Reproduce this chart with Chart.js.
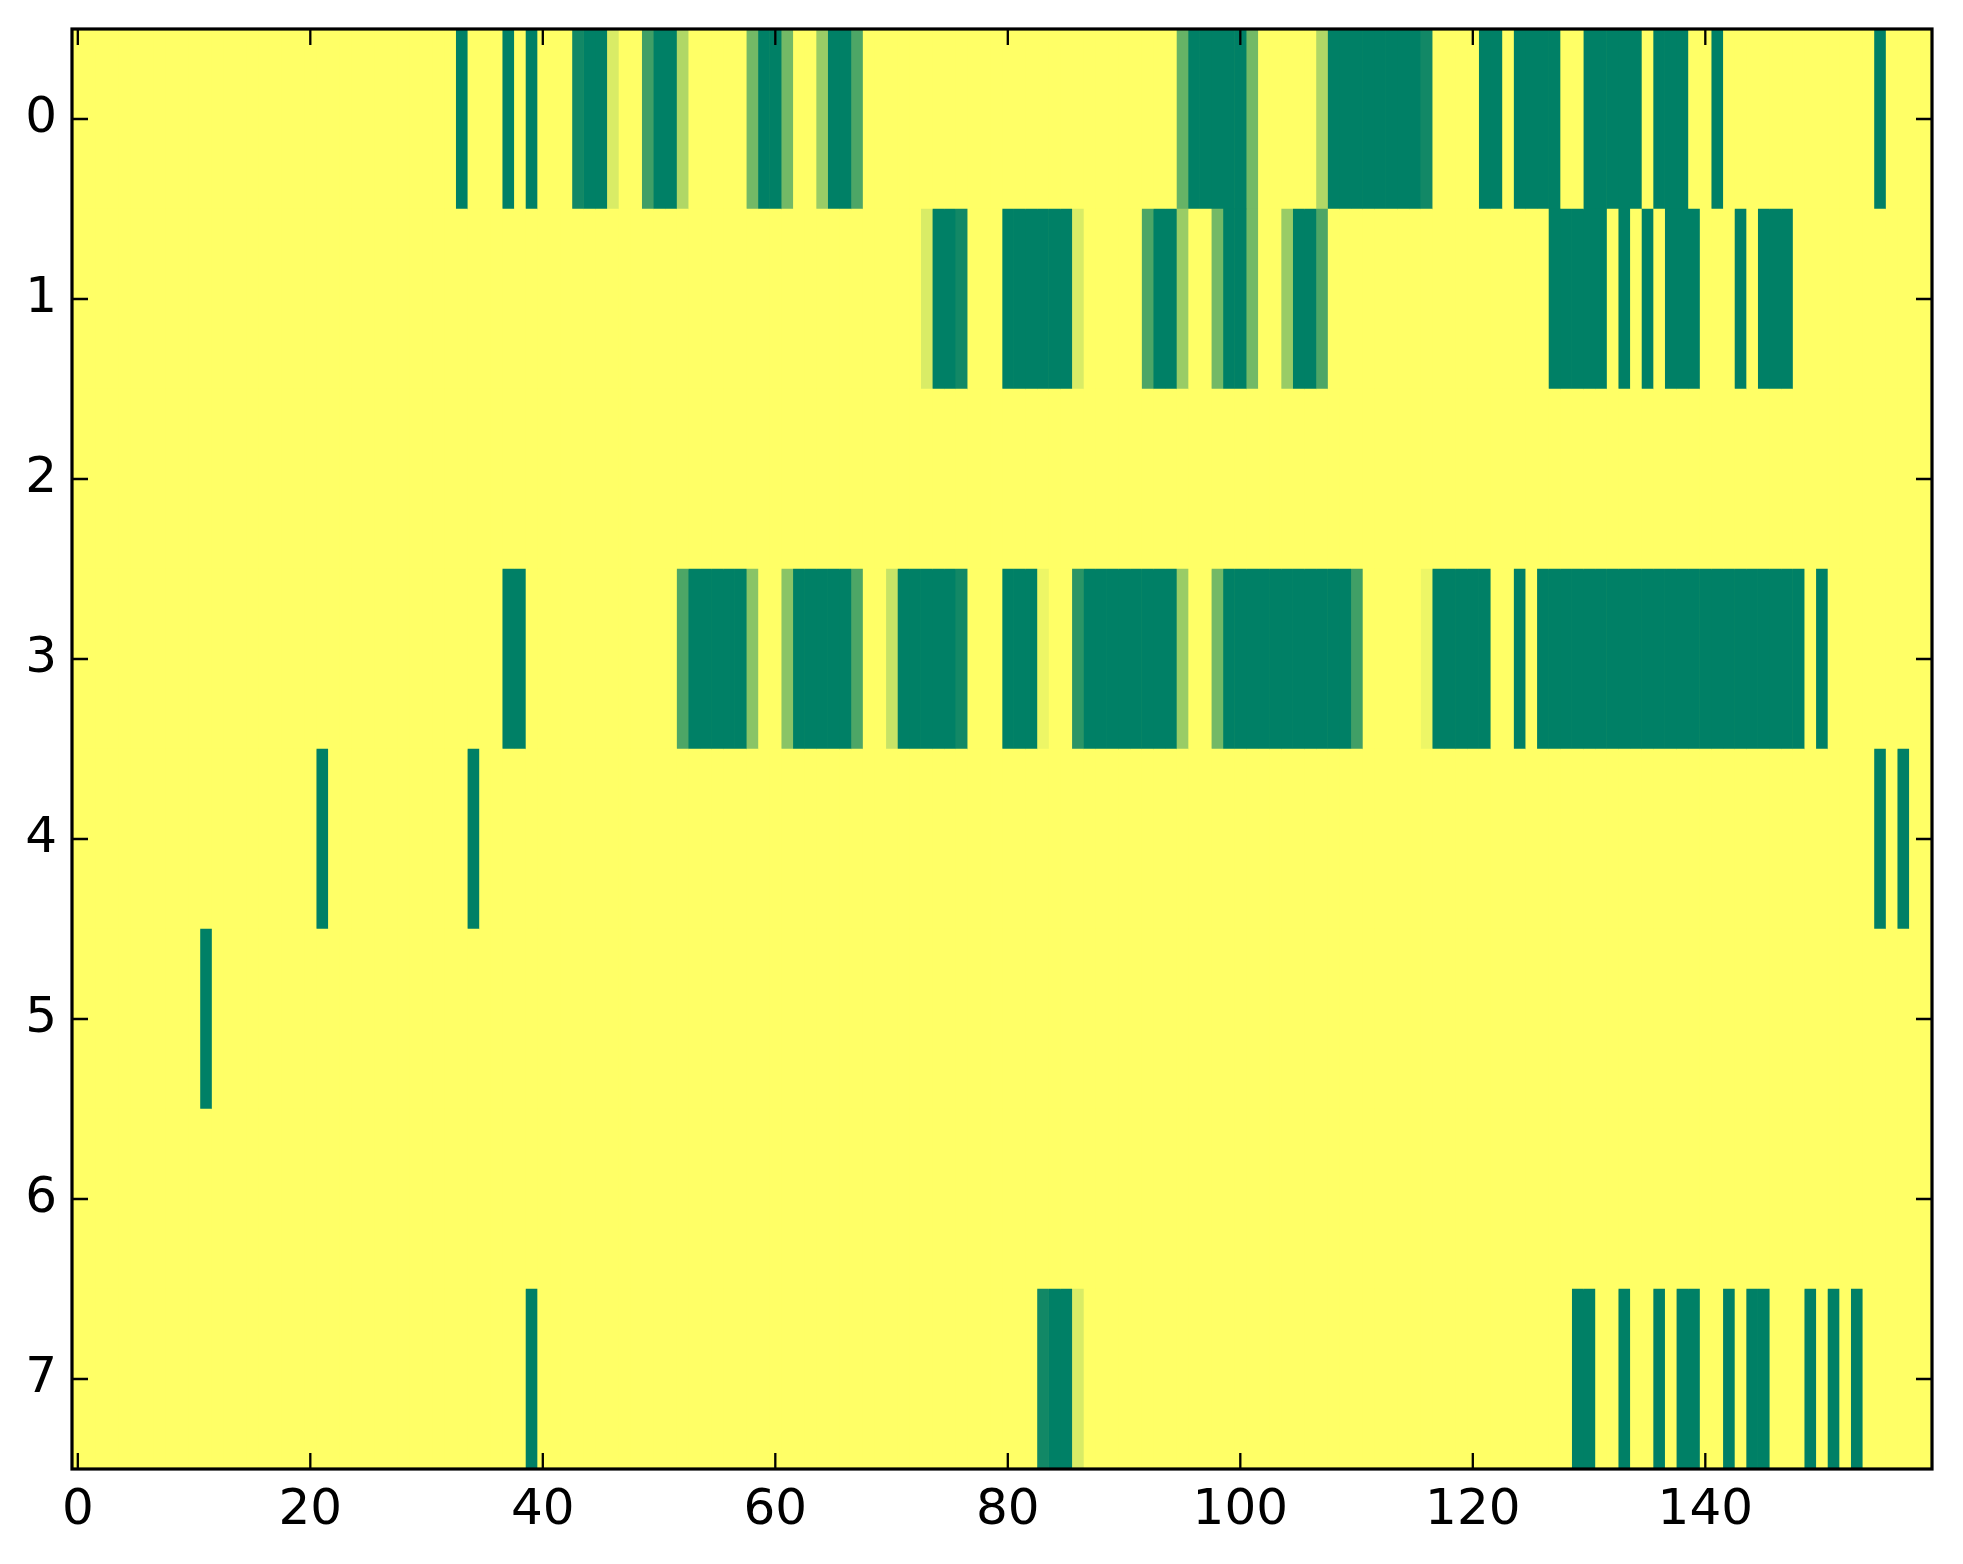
<!DOCTYPE html>
<html>
<head>
<meta charset="utf-8">
<script src="https://cdn.jsdelivr.net/npm/chart.js@4.4.1/dist/chart.umd.min.js"></script>
<style>
  html, body { margin: 0; padding: 0; background: #ffffff; }
  canvas { display: block; }
</style>
</head>
<body>
<canvas id="heat" width="1963" height="1564"></canvas>
<script>
// rows of the image, top to bottom
const rowLabels = ["0", "1", "2", "3", "4", "5", "6", "7"];
const nCols = 160;
const xTicks = [0, 20, 40, 60, 80, 100, 120, 140];

// non-zero cells per row: [column, value]  (everything else is 0)
const row0 = [[33,1],[37,1],[39,1],[43,0.93],[44,1],[45,1],[46,0.15],[49,0.75],[50,1],[51,1],[52,0.31],
  [58,0.55],[59,1],[60,1],[61,0.55],[64,0.4],[65,1],[66,1],[67,0.7],
  [95,0.6],[96,1],[97,1],[98,1],[99,1],[100,1],[101,0.55],
  [107,0.31],[108,1],[109,1],[110,1],[111,1],[112,1],[113,1],[114,1],[115,1],[116,0.93],
  [121,1],[122,1],[124,1],[125,1],[126,1],[127,1],[130,1],[131,1],[132,1],[133,1],[134,1],
  [136,1],[137,1],[138,1],[141,1],[155,1]];
const row1 = [[73,0.15],[74,1],[75,1],[76,0.93],[80,1],[81,1],[82,1],[83,1],[84,1],[85,1],[86,0.15],
  [92,0.7],[93,1],[94,1],[95,0.4],[98,0.55],[99,1],[100,1],[101,0.55],
  [104,0.4],[105,1],[106,1],[107,0.7],
  [127,1],[128,1],[129,1],[130,1],[131,1],[133,1],[135,1],[137,1],[138,1],[139,1],
  [143,1],[145,1],[146,1],[147,1]];
const row2 = [];
const row3 = [[37,1],[38,1],[52,0.7],[53,1],[54,1],[55,1],[56,1],[57,1],[58,0.46],
  [61,0.46],[62,1],[63,1],[64,1],[65,1],[66,1],[67,0.7],
  [70,0.22],[71,1],[72,1],[73,1],[74,1],[75,1],[76,0.93],
  [80,1],[81,1],[82,1],[83,0.07],[86,0.83],[87,1],[88,1],[89,1],[90,1],[91,1],[92,1],[93,1],[94,1],[95,0.4],
  [98,0.55],[99,1],[100,1],[101,1],[102,1],[103,1],[104,1],[105,1],[106,1],[107,1],[108,1],[109,1],[110,0.75],
  [116,0.07],[117,1],[118,1],[119,1],[120,1],[121,1],[124,1],
  [126,1],[127,1],[128,1],[129,1],[130,1],[131,1],[132,1],[133,1],[134,1],[135,1],[136,1],[137,1],
  [138,1],[139,1],[140,1],[141,1],[142,1],[143,1],[144,1],[145,1],[146,1],[147,1],[148,1],[150,1]];
const row4 = [[21,1],[34,1],[155,1],[157,1]];
const row5 = [[11,1]];
const row6 = [];
const row7 = [[39,1],[83,0.93],[84,1],[85,1],[86,0.15],[129,1],[130,1],[133,1],[136,1],[138,1],[139,1],
  [142,1],[144,1],[145,1],[149,1],[151,1],[153,1]];

const rows = [row0, row1, row2, row3, row4, row5, row6, row7];

// matplotlib "summer_r": 0 -> yellow, 1 -> green
function summerR(v) {
  const r = Math.round(255 * (1 - v));
  const g = Math.round(255 * (1 - v / 2));
  return "rgb(" + r + "," + g + ",102)";
}

const matrix = rows.map(pairs => {
  const a = new Array(nCols).fill(0);
  pairs.forEach(p => { a[p[0]] = p[1]; });
  return a;
});

const datasets = [];
for (let c = 0; c < nCols; c++) {
  datasets.push({
    data: matrix.map(() => [c - 0.5, c + 0.5]),
    backgroundColor: matrix.map(r => summerR(r[c])),
    borderWidth: 0,
    barPercentage: 1,
    categoryPercentage: 1,
    grouped: false
  });
}

const tickFont = { family: "DejaVu Sans", size: 50 };

// frame + inward ticks on all four sides, like classic matplotlib
const framePlugin = {
  id: "frame",
  beforeDatasetsDraw(chart) {
    const a = chart.chartArea, ctx = chart.ctx;
    ctx.save();
    ctx.fillStyle = summerR(0);
    ctx.fillRect(a.left, a.top, a.right - a.left, a.bottom - a.top);
    ctx.restore();
  },
  afterDraw(chart) {
    const a = chart.chartArea, ctx = chart.ctx;
    const xs = chart.scales.x, ys = chart.scales.y;
    const len = 16;
    ctx.save();
    ctx.strokeStyle = "#000";
    ctx.lineWidth = 2.3;
    ctx.beginPath();
    xTicks.forEach(v => {
      const px = xs.getPixelForValue(v);
      ctx.moveTo(px, a.bottom); ctx.lineTo(px, a.bottom - len);
      ctx.moveTo(px, a.top); ctx.lineTo(px, a.top + len);
    });
    rowLabels.forEach((l, i) => {
      const py = ys.getPixelForTick(i);
      ctx.moveTo(a.left, py); ctx.lineTo(a.left + len, py);
      ctx.moveTo(a.right, py); ctx.lineTo(a.right - len, py);
    });
    ctx.stroke();
    ctx.lineWidth = 3.2;
    ctx.strokeRect(a.left, a.top, a.right - a.left, a.bottom - a.top);
    ctx.restore();
  }
};

new Chart(document.getElementById("heat"), {
  type: "bar",
  data: { labels: rowLabels, datasets: datasets },
  options: {
    indexAxis: "y",
    responsive: false,
    devicePixelRatio: 1,
    animation: false,
    layout: { padding: { top: 29, right: 31, left: 0, bottom: 0 } },
    plugins: { legend: { display: false }, tooltip: { enabled: false } },
    scales: {
      x: {
        type: "linear",
        position: "bottom",
        min: -0.5,
        max: nCols - 0.5,
        grid: { display: false, drawTicks: false },
        border: { display: false },
        ticks: { font: tickFont, color: "#000", padding: 12, maxRotation: 0 },
        afterBuildTicks(scale) { scale.ticks = xTicks.map(v => ({ value: v })); },
        afterFit(scale) {
          scale.height = 95;
          scale.paddingLeft = 0; scale.paddingRight = 0;
        }
      },
      y: {
        type: "category",
        offset: true,
        grid: { display: false, drawTicks: false },
        border: { display: false },
        ticks: { font: tickFont, color: "#000", padding: 15 },
        afterFit(scale) {
          scale.width = 72;
          scale.paddingTop = 0; scale.paddingBottom = 0;
        }
      }
    }
  },
  plugins: [framePlugin]
});
</script>
</body>
</html>
